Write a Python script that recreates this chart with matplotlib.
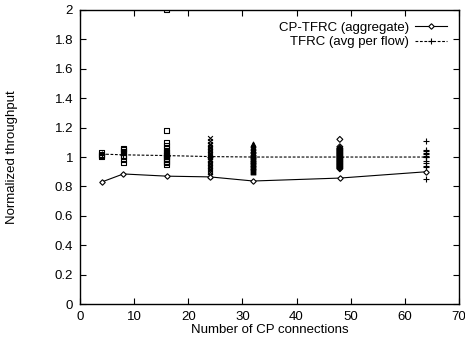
import matplotlib
matplotlib.use('Agg')
import matplotlib.pyplot as plt

plt.rcParams['font.family'] = ['Liberation Sans', 'DejaVu Sans']

# aggregate / average lines
conns = [4, 8, 16, 24, 32, 48, 64]
cp_tfrc = [0.83, 0.885, 0.87, 0.865, 0.837, 0.857, 0.90]
tfrc_avg = [1.02, 1.015, 1.01, 1.003, 1.0, 1.0, 1.0]

# per flow normalized throughput
flows_4 = [1.0, 1.01, 1.02, 1.03]
flows_8 = [0.96, 0.98, 1.0, 1.01, 1.03, 1.04, 1.05, 1.06]
flows_16 = [2.0, 1.18, 1.10, 1.08, 1.06, 1.04, 1.03, 1.02, 1.01, 1.0,
            1.0, 0.99, 0.98, 0.97, 0.96, 0.95]
flows_24 = [1.13, 1.11, 1.09, 1.08, 1.07, 1.06, 1.05, 1.04, 1.03, 1.02,
            1.01, 1.0, 0.99, 0.98, 0.97, 0.96, 0.95, 0.94, 0.93, 0.92,
            0.91, 0.90, 0.88, 0.87]
flows_32 = [1.09, 1.08, 1.07, 1.06, 1.05, 1.045, 1.04, 1.03, 1.025, 1.02,
            1.01, 1.005, 1.0, 0.995, 0.99, 0.985, 0.98, 0.975, 0.97, 0.965,
            0.96, 0.955, 0.95, 0.945, 0.94, 0.935, 0.93, 0.925, 0.92, 0.91,
            0.905, 0.90]
flows_48 = [1.12, 1.07, 1.06, 1.055, 1.05, 1.045, 1.04, 1.035, 1.03, 1.025,
            1.02, 1.015, 1.01, 1.005, 1.0, 0.995, 0.99, 0.985, 0.98, 0.975,
            0.97, 0.965, 0.96, 0.955, 0.95, 0.945, 0.94, 0.935, 0.93, 0.925,
            0.92]
flows_64 = [1.11, 1.05, 1.04, 1.03, 1.02, 1.01, 1.0, 0.97, 0.96, 0.94,
            0.93, 0.85]

fig = plt.figure(figsize=(4.65, 3.44), dpi=100)
ax = fig.add_axes([0.172, 0.116, 0.815, 0.855])

ax.scatter([4] * len(flows_4), flows_4, marker='s', s=12, facecolors='none',
           edgecolors='black', linewidths=0.8)
ax.scatter([8] * len(flows_8), flows_8, marker='s', s=12, facecolors='none',
           edgecolors='black', linewidths=0.8)
ax.scatter([16] * len(flows_16), flows_16, marker='s', s=12, facecolors='none',
           edgecolors='black', linewidths=0.8)
ax.scatter([24] * len(flows_24), flows_24, marker='x', s=12, color='black',
           linewidths=0.8)
ax.scatter([32] * len(flows_32), flows_32, marker='^', s=12, color='black',
           linewidths=0.8)
ax.scatter([48] * len(flows_48), flows_48, marker='D', s=9, facecolors='none',
           edgecolors='black', linewidths=0.8)
ax.scatter([64] * len(flows_64), flows_64, marker='+', s=16, color='black',
           linewidths=0.8)

ax.plot(conns, cp_tfrc, color='black', lw=0.8, marker='D', ms=2.8,
        mfc='white', mec='black', mew=0.8, label='CP-TFRC (aggregate)')
ax.plot(conns, tfrc_avg, color='black', lw=0.8, ls=(0, (2.5, 1.5)),
        marker='+', ms=4, mew=0.8, label='TFRC (avg per flow)')

ax.set_xlim(0, 70)
ax.set_ylim(0, 2)
ax.set_xticks(range(0, 71, 10))
ax.set_yticks([0, 0.2, 0.4, 0.6, 0.8, 1, 1.2, 1.4, 1.6, 1.8, 2])
ax.set_yticklabels(['0', '0.2', '0.4', '0.6', '0.8', '1', '1.2', '1.4',
                    '1.6', '1.8', '2'])
ax.tick_params(direction='in', top=True, right=True, length=4, width=0.8,
               labelsize=9.5, pad=5)
for s in ax.spines.values():
    s.set_linewidth(1.0)

ax.set_xlabel('Number of CP connections', fontsize=9.5, labelpad=1)
ax.set_ylabel('Normalized throughput', fontsize=9.5, labelpad=26)

ax.legend(loc='upper right', frameon=False, markerfirst=False, fontsize=9.5,
          handlelength=2.4, handletextpad=0.5, labelspacing=0.15,
          borderaxespad=0.5)

fig.savefig('out.png', dpi=100)
